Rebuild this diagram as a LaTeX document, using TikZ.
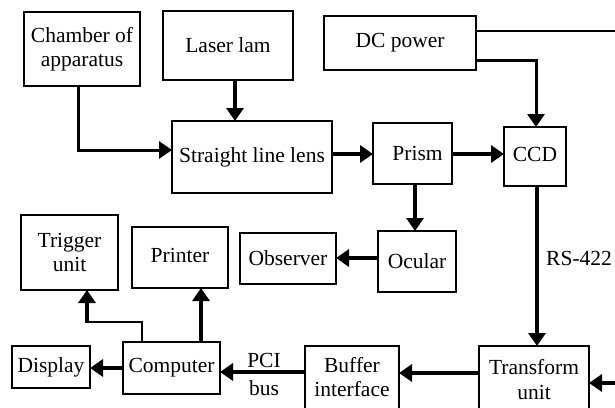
\documentclass[tikz,border=0pt]{standalone}
\usepackage{fontspec}
\setmainfont{Liberation Serif}
\usetikzlibrary{arrows.meta}
\begin{document}
\begin{tikzpicture}[x=1pt,y=-1pt,
  box/.style={draw, line width=1.6pt, inner sep=0pt, outer sep=0pt, align=center,
    font=\fontsize{21.5}{24.5}\selectfont},
  txt/.style={inner sep=0pt, align=center, font=\fontsize{21.5}{24.5}\selectfont},
  arr/.style={line width=4pt, -{Triangle[length=13pt,width=17pt]}},
  mid/.style={line width=3pt, -{Triangle[length=13pt,width=17pt]}},
  thin/.style={line width=1.8pt}]
\useasboundingbox (0,0) rectangle (615,407);
\clip (0,0) rectangle (615,407);
\fill[white] (0,0) rectangle (615,407);
% boxes
\node[box, minimum width=116pt, minimum height=74pt] (ch) at (82,49) {Chamber of\\apparatus};
\node[box, minimum width=130pt, minimum height=69pt] (las) at (228,45.5) {Laser lam};
\node[box, minimum width=160pt, minimum height=72pt] (lens) at (252,157) {\raisebox{3pt}{Straight line lens}};
\node[box, minimum width=152pt, minimum height=54pt] (dc) at (400,43) {DC power};
\node[box, minimum width=79pt, minimum height=61pt] (pr) at (412.5,153.5) {\hspace*{10pt}Prism};
\node[box, minimum width=62pt, minimum height=59pt] (ccd) at (535,156.5) {\raisebox{4pt}{CCD}};
\node[box, minimum width=78pt, minimum height=61pt] (oc) at (417,261.5) {Ocular};
\node[box, minimum width=96pt, minimum height=51pt] (obs) at (288,258.5) {Observer};
\node[box, minimum width=97pt, minimum height=75pt] (trig) at (69.5,252.5) {Trigger\\unit};
\node[box, minimum width=96pt, minimum height=61pt] (prn) at (180,257.5) {\raisebox{4pt}{Printer}};
\node[box, minimum width=78pt, minimum height=42pt] (disp) at (51,367) {Display};
\node[box, minimum width=97pt, minimum height=52pt] (comp) at (171.5,368) {Computer};
\node[box, minimum width=94pt, minimum height=84pt] (buf) at (352,388) {};
\node[txt] (buft) at (352,377) {Buffer\\interface};
\node[box, minimum width=110pt, minimum height=84pt] (tu) at (534,388) {};
\node[txt] (tut) at (534,379.5) {Transform\\unit};
\node[txt, anchor=west] (rs) at (546,258) {RS-422};
\node[txt] (pci) at (264,360) {PCI};
\node[txt] (bus) at (264,388) {bus};
\coordinate (edgeA) at (615,31);
\coordinate (edgeB) at (615,383);
% connectors
\draw[arr] (las.south -| 235,0) -- (lens.north -| 235,0);
\draw[mid] (ch.south -| 78,0) -- (78,150) -- (lens.west |- 0,150);
\draw[arr] (lens.east |- 0,154) -- (pr.west |- 0,154);
\draw[arr] (pr.east |- 0,154) -- (ccd.west |- 0,154);
\draw[thin] (dc.east |- 0,31) -- (edgeA);
\draw[mid] (dc.east |- 0,60) -- (536,60) -- (ccd.north -| 536,0);
\draw[arr] (pr.south -| 415,0) -- (oc.north -| 415,0);
\draw[arr] (oc.west |- 0,258) -- (obs.east |- 0,258);
\draw[arr] (ccd.south -| 537,0) -- (tu.north -| 537,0);
\draw[arr] (edgeB) -- (tu.east |- 0,383);
\draw[arr] (tu.west |- 0,373) -- (buf.east |- 0,373);
\draw[arr] (buf.west |- 0,372) -- (comp.east |- 0,372);
\draw[arr] (comp.west |- 0,368) -- (disp.east |- 0,368);
\draw[arr] (comp.north -| 201,0) -- (prn.south -| 201,0);
\draw[thin] (comp.north -| 142,0) -- (142,322) -- (87,322);
\draw[arr] (87,323) -- (trig.south -| 87,0);
\end{tikzpicture}
\end{document}
